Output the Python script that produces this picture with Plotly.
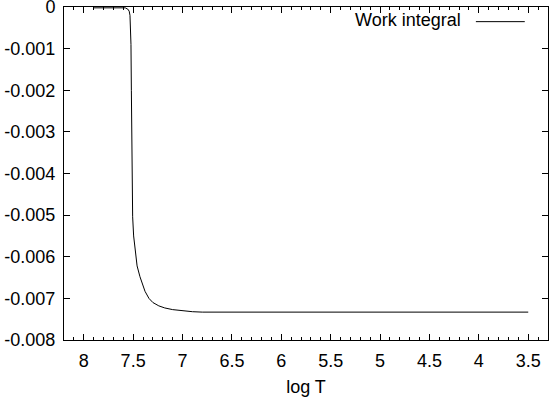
import plotly.graph_objects as go

# Data
log_t = [7.90, 7.75, 7.62, 7.58, 7.555, 7.54, 7.532, 7.527, 7.522, 7.518, 7.515, 7.510,
         7.505, 7.495, 7.481, 7.46, 7.431, 7.40, 7.38, 7.34, 7.30, 7.24, 7.18, 7.10,
         7.00, 6.90, 6.80, 6.50, 6.00, 5.50, 5.00, 4.50, 4.10, 4.02, 3.95, 3.80, 3.50]
work = [-0.00002, -0.00002, -0.00002, -0.00002, -0.00005, -0.00010, -0.00020, -0.00045,
        -0.00090, -0.0020, -0.00344, -0.0044, -0.00504, -0.00550, -0.00584, -0.00622,
        -0.00648, -0.00670, -0.00683, -0.00700, -0.00710, -0.00718, -0.00723, -0.00727,
        -0.00730, -0.00732, -0.00733, -0.00733, -0.00733, -0.00733, -0.00733, -0.00733,
        -0.00733, -0.00732, -0.00733, -0.00733, -0.00733]
series_name = "Work integral"

x_tick_vals = [8, 7.5, 7, 6.5, 6, 5.5, 5, 4.5, 4, 3.5]
x_tick_text = ["8", "7.5", "7", "6.5", "6", "5.5", "5", "4.5", "4", "3.5"]
y_tick_vals = [0, -0.001, -0.002, -0.003, -0.004, -0.005, -0.006, -0.007, -0.008]
y_tick_text = ["0", "-0.001", "-0.002", "-0.003", "-0.004", "-0.005", "-0.006", "-0.007", "-0.008"]
x_range = [8.2, 3.3]
y_range = [-0.008, 0]
x_title = "log T"

FONT = "Liberation Sans, Arial, sans-serif"

fig = go.Figure()
fig.add_trace(go.Scatter(x=log_t, y=work, mode="lines", name=series_name,
                         line=dict(color="black", width=1), showlegend=False,
                         hoverinfo="skip"))

fig.update_layout(
    width=549, height=399,
    margin=dict(l=64, r=1, t=7, b=59, autoexpand=False),
    paper_bgcolor="white", plot_bgcolor="white",
    font=dict(family=FONT, size=18, color="black"),
    xaxis=dict(
        range=x_range, tickvals=x_tick_vals, ticktext=x_tick_text,
        ticks="inside", ticklen=6, tickwidth=1, tickcolor="black",
        showline=True, linecolor="black", linewidth=1, mirror="ticks",
        showgrid=False, zeroline=False, automargin=False,
        ticklabeloverflow="allow", ticklabelstandoff=4,
        minor=dict(dtick=0.1, tick0=0, ticks="inside", ticklen=3, tickcolor="black", showgrid=False),
        title=dict(text=x_title, font=dict(size=18), standoff=10),
        tickfont=dict(size=18),
    ),
    yaxis=dict(
        range=y_range, tickvals=y_tick_vals, ticktext=y_tick_text,
        ticks="inside", ticklen=6, tickwidth=1, tickcolor="black",
        showline=True, linecolor="black", linewidth=1, mirror="ticks",
        showgrid=False, zeroline=False, automargin=False,
        ticklabeloverflow="allow", ticklabelstandoff=4,
        tickfont=dict(size=18),
    ),
)

# legend drawn gnuplot-style: text then line sample
fig.add_annotation(xref="paper", yref="paper", x=0.824, y=0.961, text=series_name,
                   showarrow=False, xanchor="right", yanchor="middle",
                   font=dict(family=FONT, size=18, color="black"))
fig.add_shape(type="line", xref="paper", yref="paper", x0=0.851, x1=0.952,
              y0=0.956, y1=0.956, line=dict(color="black", width=1))

fig.write_html("out.html", config={"displayModeBar": False},
               post_script="document.body.style.margin='0';document.body.style.overflow='hidden';")
